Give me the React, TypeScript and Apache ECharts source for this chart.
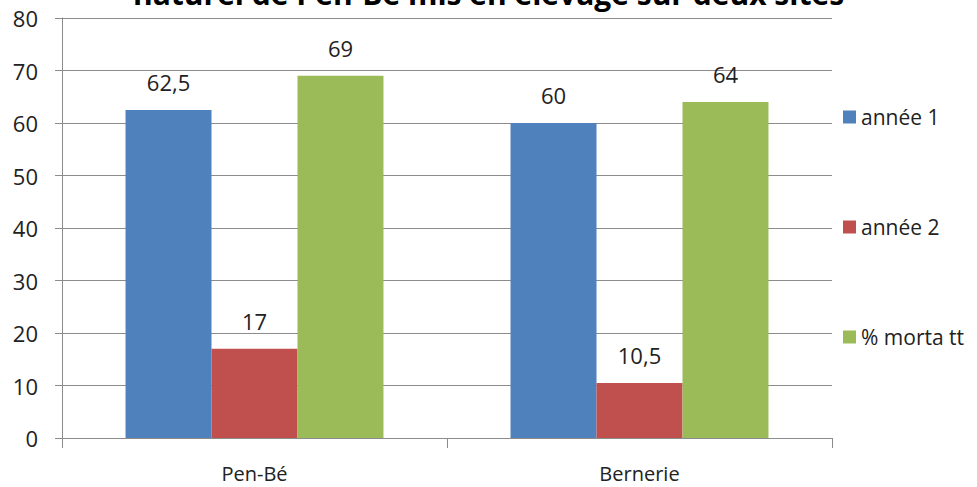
import React, { useEffect, useRef } from "react";
import * as echarts from "echarts";

const categories = ["Pen-Bé", "Bernerie"];
const seriesNames = ["année 1", "année 2", "% morta tt"];
const annee1 = [62.5, 60];
const annee2 = [17, 10.5];
const mortaTT = [69, 64];
const colors = ["#4F81BD", "#C0504D", "#9BBB59"];
const titleText = "naturel de Pen-Bé mis en élevage sur deux sites";

const FONT = "'Open Sans', 'Noto Sans', sans-serif";

export default function App() {
  const ref = useRef<HTMLDivElement>(null);
  useEffect(() => {
    if (!ref.current) return;
    const chart = echarts.init(ref.current, undefined, { renderer: "svg" });
    const dataSets = [annee1, annee2, mortaTT];
    chart.setOption({
      animation: false,
      backgroundColor: "#ffffff",
      graphic: [
        {
          type: "text",
          left: "center",
          top: -22,
          style: {
            text: titleText,
            font: "bold 30px " + FONT,
            fill: "#000",
          },
        },
      ],
      legend: {
        orient: "vertical",
        left: 838,
        top: 100,
        itemWidth: 13,
        itemHeight: 13,
        itemGap: 86,
        icon: "rect",
        data: seriesNames,
        textStyle: { fontFamily: FONT, fontSize: 21, color: "#222", lineHeight: 24 },
      },
      grid: { left: 62, right: 145, top: 18, bottom: 49 },
      xAxis: {
        type: "category",
        data: categories,
        axisLine: { lineStyle: { color: "#8c8c8c" } },
        axisTick: { show: true, length: 10, lineStyle: { color: "#8c8c8c" } },
        axisLabel: { fontFamily: FONT, fontSize: 20, color: "#222", margin: 25, lineHeight: 20 },
      },
      yAxis: {
        type: "value",
        min: 0,
        max: 80,
        interval: 10,
        axisLine: { show: true, lineStyle: { color: "#8c8c8c" } },
        axisTick: { show: true, length: 7, lineStyle: { color: "#8c8c8c" } },
        splitLine: { lineStyle: { color: "#8c8c8c" } },
        axisLabel: { fontFamily: FONT, fontSize: 22, color: "#222", margin: 24 },
      },
      series: seriesNames.map((name, i) => ({
        name,
        type: "bar",
        data: dataSets[i],
        barGap: "0%",
        barCategoryGap: "33%",
        itemStyle: { color: colors[i] },
        label: {
          show: true,
          position: "top",
          distance: 17,
          fontFamily: FONT,
          fontSize: 22,
          color: "#222",
          formatter: (p: any) => String(p.value).replace(".", ","),
        },
      })),
    });
    return () => chart.dispose();
  }, []);
  return (
    <div
      ref={ref}
      style={{ position: "fixed", left: 0, top: 0, width: 977, height: 487 }}
    />
  );
}
